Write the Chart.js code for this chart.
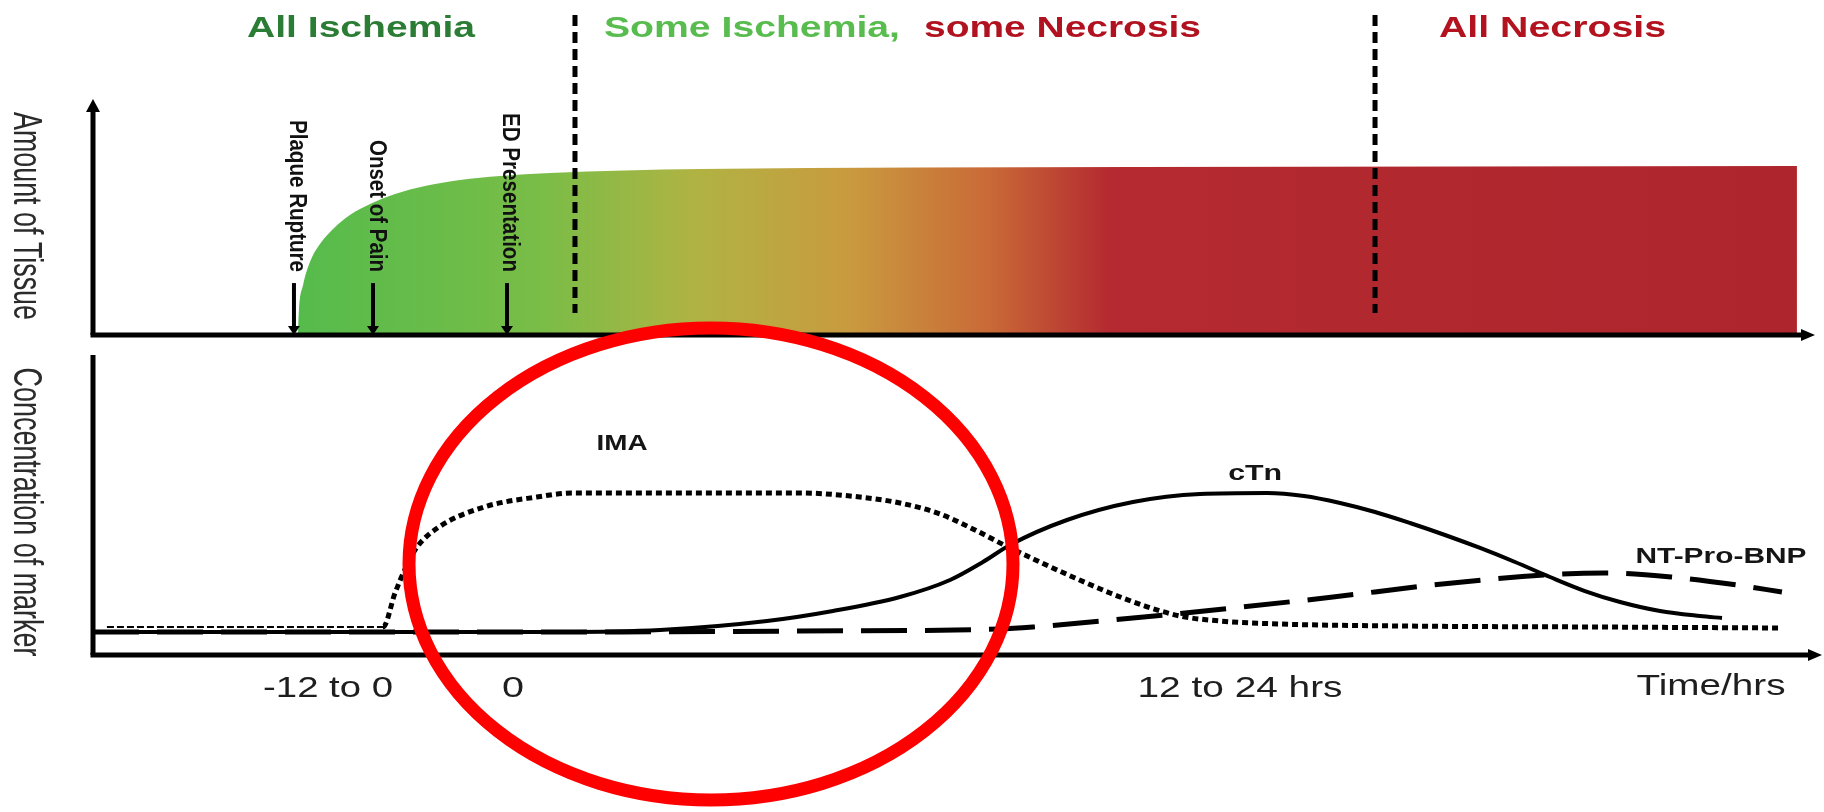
<!DOCTYPE html>
<html><head><meta charset="utf-8">
<script src="https://cdn.jsdelivr.net/npm/chart.js@4.4.1/dist/chart.umd.min.js"></script>
<style>
html,body{margin:0;padding:0;background:#fff;width:1824px;height:812px;overflow:hidden}
canvas{position:absolute;left:0;top:0}
</style></head><body>
<canvas id="topChart" width="1824" height="812"></canvas>
<canvas id="bottomChart" width="1824" height="812"></canvas>
<script>
// ---------------- DATA (x in position units 0-100 along the time axis) ----------------
const tissueX = [11.90, 11.96, 12.20, 12.60, 13.18, 14.00, 14.92, 16.09, 17.54, 19.28, 21.31, 23.64, 26.54, 35.25, 60.51, 98.95];
const tissueY = [0, 10.64, 21.28, 31.06, 38.72, 45.53, 51.06, 55.74, 60.00, 63.40, 65.96, 67.66, 68.94, 70.64, 71.49, 71.91];

const imaX = [0.81, 16.84, 17.54, 18.18, 18.82, 20.09, 22.71, 25.78, 27.87, 35.25, 41.06, 43.96, 46.86, 49.19, 51.22, 53.02, 54.99, 57.03, 59.06, 61.09, 63.12, 65.45, 68.93, 75.90, 87.51, 98.08];
const imaY = [9.33, 9.33, 20.67, 29.33, 36.0, 42.67, 49.33, 52.67, 54.0, 54.0, 54.0, 53.0, 50.67, 47.0, 41.67, 36.33, 31.0, 25.67, 20.67, 16.33, 13.0, 11.33, 10.33, 9.67, 9.33, 9.0];

const ctnX = [0, 27.12, 32.93, 39.14, 42.97, 46.86, 49.77, 51.68, 53.25, 56.56, 60.39, 64.29, 68.18, 70.33, 72.42, 74.45, 76.48, 78.51, 80.55, 82.58, 84.61, 86.64, 88.68, 91.00, 93.32, 94.60];
const ctnY = [7.67, 7.67, 8.33, 11.33, 14.67, 19.33, 25.0, 31.0, 36.67, 45.0, 51.0, 53.67, 54.0, 53.0, 50.67, 47.67, 44.0, 40.0, 35.67, 31.0, 26.0, 21.33, 17.67, 14.67, 13.0, 12.33];

const bnpX = [0, 27.12, 41.06, 52.67, 54.59, 60.39, 66.20, 72.01, 77.82, 84.26, 87.75, 91.64, 95.47, 98.08];
const bnpY = [7.67, 7.67, 8.0, 8.67, 9.33, 12.33, 15.67, 19.33, 23.33, 26.67, 27.33, 26.0, 23.33, 21.0];

const gradientStops  = [11.9, 26, 35, 44, 52, 59, 100];
const gradientColors = ['#55bb4c', '#79bd47', '#b0b343', '#c99a3f', '#c96a37', '#b42a30', '#ae252d'];

const eventLabels = ['Plaque Rupture', 'Onset of Pain', 'ED Presentation'];
const eventX = [11.67, 16.26, 24.04];
const eventStemTop = 22.1;

const phaseBoundaryX = [27.99, 74.45];
const phaseTitles = ['All Ischemia', 'Some Ischemia,', 'some Necrosis', 'All Necrosis'];

const tickLabels = ['-12 to 0', '0', '12 to 24 hrs', 'Time/hrs'];
const tickX = [13.65, 24.39, 66.61, 93.96];

const seriesLabels = ['IMA', 'cTn', 'NT-Pro-BNP'];
const seriesLabelX = [30.72, 67.49, 94.54];
const seriesLabelY = [68.33, 58.33, 30.67];

const topAxisTitle = 'Amount of Tissue';
const bottomAxisTitle = 'Concentration of marker';

// ---------------- helpers ----------------
const pts = (xs, ys) => xs.map((x, i) => ({x: x, y: ys[i]}));
const FONT = '"Liberation Sans", Arial, sans-serif';

function fitText(ctx, text, x, y, font, width, color, rotate) {
  ctx.save();
  ctx.font = font;
  const w = ctx.measureText(text).width;
  ctx.translate(x, y);
  if (rotate) ctx.rotate(Math.PI / 2);
  ctx.scale(width / w, 1);
  ctx.textAlign = 'center';
  ctx.textBaseline = 'alphabetic';
  ctx.fillStyle = color;
  ctx.fillText(text, 0, 0);
  ctx.restore();
}
function tri(ctx, a, b, c) {
  ctx.beginPath(); ctx.moveTo(a[0], a[1]); ctx.lineTo(b[0], b[1]); ctx.lineTo(c[0], c[1]); ctx.closePath(); ctx.fill();
}

// texture tile (fine white mesh like the original print pattern)
const tile = document.createElement('canvas');
tile.width = 4; tile.height = 4;
const tctx = tile.getContext('2d');
tctx.fillStyle = 'rgba(255,255,255,0.42)';
tctx.fillRect(0, 0, 4, 1);
tctx.fillRect(0, 1, 1, 3);
let meshPattern = null;
function meshFill(context) {
  if (!meshPattern) meshPattern = context.chart.ctx.createPattern(tile, 'repeat');
  return meshPattern;
}

function tissueGradient(context) {
  const chart = context.chart;
  const area = chart.chartArea;
  if (!area) return gradientColors[0];
  const xs = chart.scales.x;
  const x0 = xs.getPixelForValue(0), x1 = xs.getPixelForValue(100);
  const g = chart.ctx.createLinearGradient(x0, 0, x1, 0);
  gradientStops.forEach((s, i) => g.addColorStop(s / 100, gradientColors[i]));
  return g;
}

// ---------------- TOP CHART ----------------
const topDecor = {
  id: 'topDecor',
  afterDatasetsDraw(chart) {
    const ctx = chart.ctx, a = chart.chartArea, xs = chart.scales.x, ys = chart.scales.y;
    ctx.save();
    // phase boundary dashed lines
    ctx.strokeStyle = '#000'; ctx.lineWidth = 5; ctx.setLineDash([11, 6]);
    phaseBoundaryX.forEach(v => {
      const px = xs.getPixelForValue(v);
      ctx.beginPath(); ctx.moveTo(px, 15); ctx.lineTo(px, 313); ctx.stroke();
    });
    ctx.setLineDash([]);
    // axes
    ctx.lineWidth = 5; ctx.fillStyle = '#000';
    ctx.beginPath(); ctx.moveTo(a.left, a.bottom); ctx.lineTo(a.left, a.top + 10); ctx.stroke();
    tri(ctx, [a.left - 7, a.top + 12], [a.left + 7, a.top + 12], [a.left, a.top - 1]);
    ctx.beginPath(); ctx.moveTo(a.left - 2.5, a.bottom); ctx.lineTo(a.right - 12, a.bottom); ctx.stroke();
    tri(ctx, [a.right - 14, a.bottom - 6], [a.right - 14, a.bottom + 6], [a.right, a.bottom]);
    // event arrows and labels
    ctx.lineWidth = 4;
    const top = ys.getPixelForValue(eventStemTop);
    eventX.forEach(v => {
      const px = xs.getPixelForValue(v);
      ctx.beginPath(); ctx.moveTo(px, top); ctx.lineTo(px, a.bottom - 6); ctx.stroke();
      tri(ctx, [px - 6, a.bottom - 9], [px + 6, a.bottom - 9], [px, a.bottom]);
    });
    const evLen = [152, 132, 159];
    const evCenterY = [196, 206, 192.5];
    const evShift = [-4, -3, -4];
    eventLabels.forEach((t, i) => {
      const px = xs.getPixelForValue(eventX[i]);
      fitText(ctx, t, px + evShift[i], evCenterY[i], 'bold 24px ' + FONT, evLen[i], '#111', true);
    });
    // phase titles
    const tx = [361, 752, 1062.5, 1552.5], tw = [228, 296, 277, 227];
    const tc = ['#2b7c34', '#58bc4f', '#b1121f', '#b3121f'];
    phaseTitles.forEach((t, i) => fitText(ctx, t, tx[i], 37, 'bold 30px ' + FONT, tw[i], tc[i], false));
    // y axis title
    fitText(ctx, topAxisTitle, 14, 216, '40px ' + FONT, 208, '#2b2b2b', true);
    ctx.restore();
  }
};

new Chart(document.getElementById('topChart'), {
  type: 'line',
  data: {
    datasets: [
      {data: pts(tissueX, tissueY), fill: 'origin', backgroundColor: tissueGradient, borderWidth: 0, pointRadius: 0, cubicInterpolationMode: 'monotone'},
      {data: pts(tissueX, tissueY), fill: 'origin', backgroundColor: meshFill, borderWidth: 0, pointRadius: 0, cubicInterpolationMode: 'monotone'}
    ]
  },
  options: {
    responsive: false, animation: false, devicePixelRatio: 1,
    layout: {padding: {left: 93, right: 9, top: 100, bottom: 477}},
    scales: {
      x: {type: 'linear', min: 0, max: 100, display: false},
      y: {min: 0, max: 100, display: false}
    },
    plugins: {legend: {display: false}, tooltip: {enabled: false}}
  },
  plugins: [topDecor]
});

// ---------------- BOTTOM CHART ----------------
const bottomDecor = {
  id: 'bottomDecor',
  afterDatasetsDraw(chart) {
    const ctx = chart.ctx, a = chart.chartArea, xs = chart.scales.x, ys = chart.scales.y;
    ctx.save();
    ctx.strokeStyle = '#000'; ctx.fillStyle = '#000'; ctx.lineWidth = 5;
    ctx.beginPath(); ctx.moveTo(a.left, a.top); ctx.lineTo(a.left, a.bottom); ctx.stroke();
    ctx.beginPath(); ctx.moveTo(a.left - 2.5, a.bottom); ctx.lineTo(a.right - 5, a.bottom); ctx.stroke();
    tri(ctx, [a.right - 7, a.bottom - 6], [a.right - 7, a.bottom + 6], [a.right + 7, a.bottom]);
    // tick labels
    const tw = [130, 22, 205, 149], tb = [697, 697, 697, 695];
    tickLabels.forEach((t, i) => fitText(ctx, t, xs.getPixelForValue(tickX[i]), tb[i], '29px ' + FONT, tw[i], '#1e1e1e', false));
    // series labels
    const sw = [51, 54, 171];
    seriesLabels.forEach((t, i) => fitText(ctx, t, xs.getPixelForValue(seriesLabelX[i]), ys.getPixelForValue(seriesLabelY[i]), 'bold 22px ' + FONT, sw[i], '#151515', false));
    // y axis title
    fitText(ctx, bottomAxisTitle, 14, 512, '40px ' + FONT, 289, '#2b2b2b', true);
    // red highlight ellipse
    ctx.strokeStyle = '#fe0000'; ctx.lineWidth = 13;
    ctx.beginPath(); ctx.ellipse(711, 564, 302, 236, 0, 0, Math.PI * 2); ctx.stroke();
    ctx.restore();
  }
};

new Chart(document.getElementById('bottomChart'), {
  type: 'line',
  data: {
    datasets: [
      {label: 'IMA', data: pts(imaX, imaY), borderColor: '#000', pointRadius: 0, fill: false,
       cubicInterpolationMode: 'monotone', borderWidth: 5, borderDash: [6, 4],
       segment: {
         borderWidth: c => c.p0DataIndex === 0 ? 2 : 5,
         borderDash: c => c.p0DataIndex === 0 ? [7, 3] : [6, 4]
       }},
      {label: 'cTn', data: pts(ctnX, ctnY), borderColor: '#000', pointRadius: 0, fill: false,
       cubicInterpolationMode: 'monotone', borderWidth: 4},
      {label: 'NT-Pro-BNP', data: pts(bnpX, bnpY), borderColor: '#000', pointRadius: 0, fill: false,
       cubicInterpolationMode: 'monotone', borderWidth: 5, borderDash: [46, 18]}
    ]
  },
  options: {
    responsive: false, animation: false, devicePixelRatio: 1,
    layout: {padding: {left: 93, right: 9, top: 355, bottom: 157}},
    scales: {
      x: {type: 'linear', min: 0, max: 100, display: false},
      y: {min: 0, max: 100, display: false}
    },
    plugins: {legend: {display: false}, tooltip: {enabled: false}}
  },
  plugins: [bottomDecor]
});
</script>
</body></html>
